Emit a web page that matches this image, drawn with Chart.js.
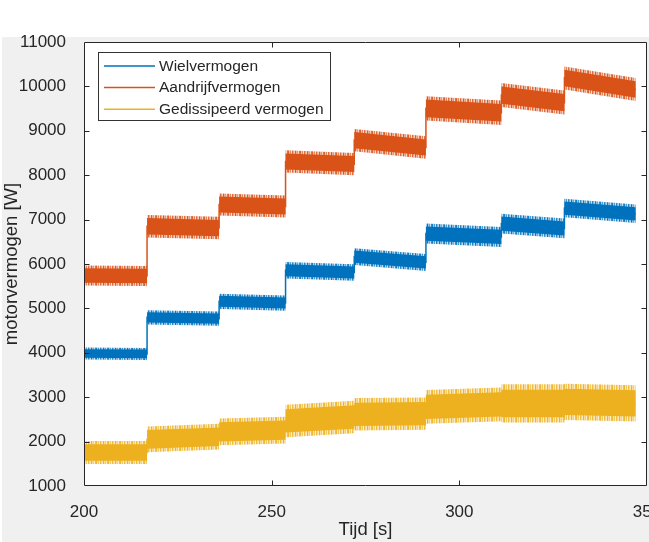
<!DOCTYPE html>
<html>
<head>
<meta charset="utf-8">
<script src="https://cdn.jsdelivr.net/npm/chart.js@4.4.1/dist/chart.umd.min.js"></script>
<style>
html,body{margin:0;padding:0;background:#ffffff;overflow:hidden}
#wrap{position:relative;width:649px;height:542px}
canvas{display:block}
</style>
</head>
<body>
<div id="wrap"><canvas id="c" width="649" height="542"></canvas></div>
<script>
// ---------- data ----------
const seriesLabels = ['Wielvermogen', 'Aandrijfvermogen', 'Gedissipeerd vermogen'];
const seriesColors = ['#0072BD', '#D95319', '#EDB120'];

// times [s] where the power steps change
const stepTimes = [200, 216.8, 236.0, 253.7, 272.0, 291.1, 311.2, 328.0, 347.0];

// Wielvermogen: mean level at start / end of each step, and half-width of the noise band
const wielStart  = [3985, 4800, 5160, 5860, 6165, 6685, 6910, 7260];
const wielEnd    = [3975, 4770, 5120, 5810, 6035, 6610, 6800, 7130];
const wielSpread = [135, 160, 172, 186, 190, 225, 222, 208];

// Aandrijfvermogen
const aandStart  = [5740, 6850, 7340, 8310, 8790, 9505, 9805, 10190];
const aandEnd    = [5730, 6810, 7295, 8250, 8625, 9405, 9635, 9930];
const aandSpread = [225, 255, 248, 250, 252, 275, 270, 260];

// Gedissipeerd vermogen
const gedStart  = [1755, 2050, 2220, 2465, 2615, 2780, 2860, 2895];
const gedEnd    = [1755, 2110, 2260, 2555, 2630, 2840, 2860, 2860];
const gedSpread = [260, 290, 300, 365, 365, 380, 430, 410];

const xTicks = [200, 250, 300, 350];
const yTicks = [1000, 2000, 3000, 4000, 5000, 6000, 7000, 8000, 9000, 10000, 11000];

const xTitle = 'Tijd [s]';
const yTitle = 'motorvermogen [W]';

// ---------- styling helpers ----------
const FONT = '"Liberation Sans", Arial, Helvetica, sans-serif';
const INK = '#262626';
// fixed column-opacity texture used for the fringe of each band (style only)
const FRINGE_ALPHA = [0.9, 0.35, 0.7, 0.2, 0.85, 0.5, 0.3, 0.95, 0.45, 0.6, 0.25, 0.8];

function hexA(hex, a) {
  const n = parseInt(hex.slice(1), 16);
  return `rgba(${(n >> 16) & 255},${(n >> 8) & 255},${n & 255},${a})`;
}
function fringePattern(hex) {
  const c = document.createElement('canvas');
  c.width = FRINGE_ALPHA.length; c.height = 1;
  const g = c.getContext('2d');
  FRINGE_ALPHA.forEach((a, i) => { g.fillStyle = hexA(hex, a); g.fillRect(i, 0, 1, 1); });
  return g.createPattern(c, 'repeat');
}
function edge(starts, ends, spreads, sign, ratio) {
  const pts = [];
  for (let i = 0; i < starts.length; i++) {
    pts.push({x: stepTimes[i],     y: starts[i] + sign * spreads[i] * ratio});
    pts.push({x: stepTimes[i + 1], y: ends[i]   + sign * spreads[i] * ratio});
  }
  return pts;
}
const seriesData = [
  [wielStart, wielEnd, wielSpread],
  [aandStart, aandEnd, aandSpread],
  [gedStart, gedEnd, gedSpread]
];
const datasets = [];
seriesData.forEach((s, k) => {
  const col = seriesColors[k];
  const base = {pointRadius: 0, borderWidth: 1, tension: 0, borderColor: 'rgba(0,0,0,0)'};
  datasets.push(Object.assign({}, base, {label: seriesLabels[k] + ' (max)', data: edge(s[0], s[1], s[2], 1, 1), fill: false}));
  datasets.push(Object.assign({}, base, {label: seriesLabels[k] + ' (min)', data: edge(s[0], s[1], s[2], -1, 1), fill: '-1', backgroundColor: fringePattern(col)}));
  datasets.push(Object.assign({}, base, {label: seriesLabels[k] + ' (kern+)', data: edge(s[0], s[1], s[2], 1, 0.72), fill: false}));
  datasets.push(Object.assign({}, base, {label: seriesLabels[k] + ' (kern-)', data: edge(s[0], s[1], s[2], -1, 0.72), fill: '-1', backgroundColor: col}));
  datasets.push(Object.assign({}, base, {label: seriesLabels[k], data: edge(s[0], s[1], s[2], 1, 0), fill: false, borderColor: col, borderWidth: 1.5}));
});

// ---------- plugins ----------
const background = {
  id: 'background',
  beforeDraw(chart) {
    const ctx = chart.ctx, a = chart.chartArea;
    ctx.save();
    ctx.fillStyle = '#ffffff';
    ctx.fillRect(0, 0, chart.width, chart.height);
    ctx.fillStyle = '#f0f0f0';
    ctx.fillRect(2, 37, chart.width - 2, chart.height - 37);
    ctx.fillStyle = '#ffffff';
    ctx.fillRect(a.left, a.top, a.right - a.left, a.bottom - a.top);
    ctx.restore();
  }
};

const boxAndTicks = {
  id: 'boxAndTicks',
  afterDatasetsDraw(chart) {
    const ctx = chart.ctx, a = chart.chartArea;
    const xs = chart.scales.x, ys = chart.scales.y;
    const L = Math.round(a.left) + 0.5, R = Math.round(a.right) - 0.5;
    const T = Math.round(a.top) + 0.5, B = Math.round(a.bottom) - 0.5;
    ctx.save();
    ctx.strokeStyle = INK;
    ctx.lineWidth = 1;
    ctx.beginPath();
    ctx.rect(L, T, R - L, B - T);
    ctx.stroke();
    ctx.beginPath();
    const tl = 5;
    xTicks.forEach(v => {
      const px = Math.round(xs.getPixelForValue(v)) + 0.5;
      if (px > L + 1 && px < R - 1) {
        ctx.moveTo(px, B); ctx.lineTo(px, B - tl);
        ctx.moveTo(px, T); ctx.lineTo(px, T + tl);
      }
    });
    yTicks.forEach(v => {
      const py = Math.round(ys.getPixelForValue(v)) + 0.5;
      if (py > T + 1 && py < B - 1) {
        ctx.moveTo(L, py); ctx.lineTo(L + tl, py);
        ctx.moveTo(R, py); ctx.lineTo(R - tl, py);
      }
    });
    ctx.stroke();
    ctx.restore();
  }
};

const insideLegend = {
  id: 'insideLegend',
  afterDraw(chart) {
    const ctx = chart.ctx;
    const bx = 98.5, by = 52.5, bw = 232, bh = 68;
    ctx.save();
    ctx.fillStyle = '#ffffff';
    ctx.fillRect(bx, by, bw, bh);
    ctx.strokeStyle = '#333333';
    ctx.lineWidth = 1;
    ctx.strokeRect(bx, by, bw, bh);
    ctx.font = '15.5px ' + FONT;
    ctx.textBaseline = 'middle';
    ctx.textAlign = 'left';
    seriesLabels.forEach((lab, i) => {
      const y = 66 + i * 21.6;
      ctx.strokeStyle = seriesColors[i];
      ctx.lineWidth = 1.5;
      ctx.beginPath();
      ctx.moveTo(104, y);
      ctx.lineTo(155, y);
      ctx.stroke();
      ctx.fillStyle = INK;
      ctx.fillText(lab, 159, y + 0.5);
    });
    ctx.restore();
  }
};

// ---------- chart ----------
new Chart(document.getElementById('c'), {
  type: 'line',
  data: {datasets},
  options: {
    responsive: false,
    devicePixelRatio: 1,
    animation: false,
    events: [],
    layout: {padding: {top: 42, right: 2, left: 0, bottom: 0}},
    plugins: {legend: {display: false}, tooltip: {enabled: false}},
    scales: {
      x: {
        type: 'linear',
        min: 200, max: 350,
        afterBuildTicks: s => { s.ticks = xTicks.map(v => ({value: v})); },
        afterFit: s => { s.height = 56; s.paddingLeft = 0; s.paddingRight = 0; },
        grid: {display: false},
        border: {display: false},
        ticks: {color: INK, font: {family: FONT, size: 17}, padding: 8, maxRotation: 0, autoSkip: false, callback: v => String(v)},
        title: {display: true, text: xTitle, color: INK, font: {family: FONT, size: 18.5}, padding: {top: 0, bottom: 1}}
      },
      y: {
        type: 'linear',
        min: 1000, max: 11000,
        afterBuildTicks: s => { s.ticks = yTicks.map(v => ({value: v})); },
        afterFit: s => { s.width = 84; s.paddingTop = 0; s.paddingBottom = 0; },
        grid: {display: false},
        border: {display: false},
        ticks: {color: INK, font: {family: FONT, size: 17}, padding: 10, autoSkip: false, callback: v => String(v)},
        title: {display: true, text: yTitle, color: INK, font: {family: FONT, size: 18.5}, padding: {top: 1, bottom: 0}}
      }
    }
  },
  plugins: [background, boxAndTicks, insideLegend]
});
</script>
</body>
</html>
